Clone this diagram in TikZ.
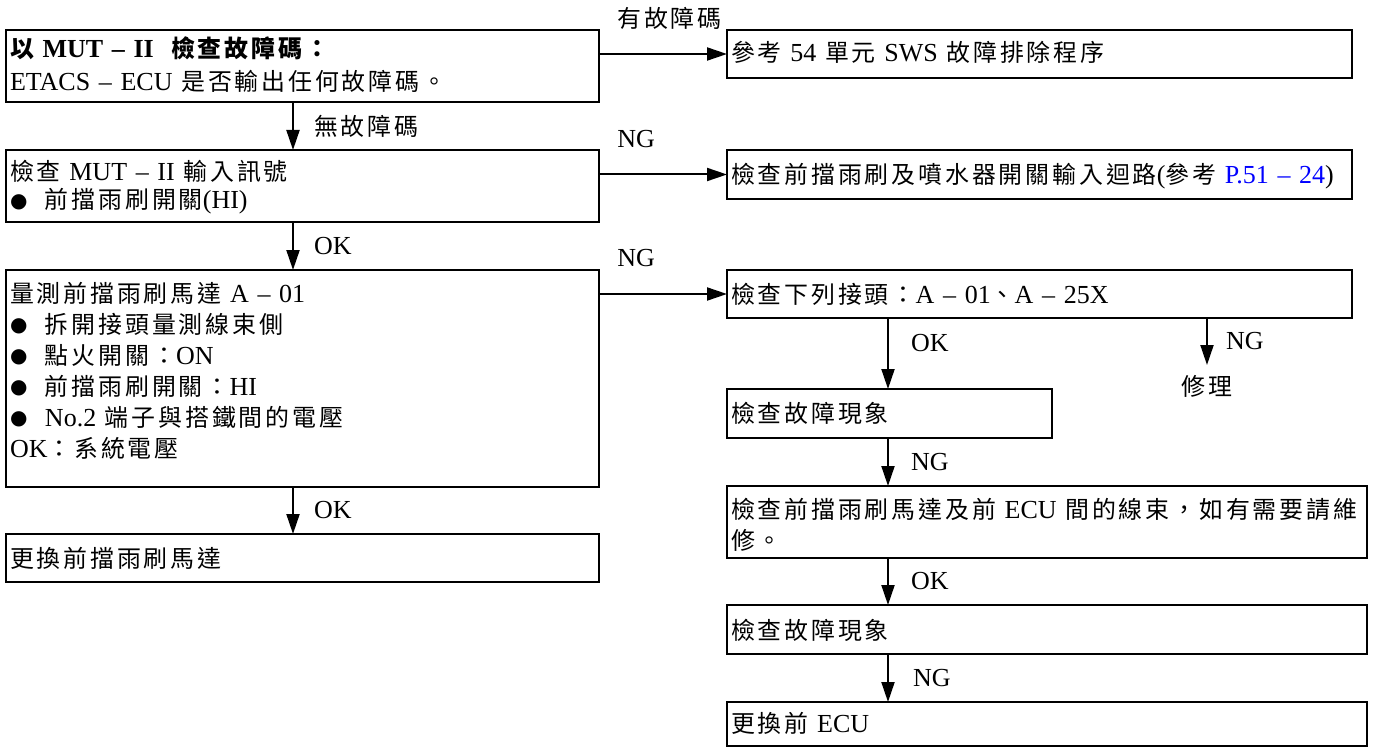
\documentclass[tikz,border=0pt]{standalone}
\usepackage{fontspec}
\setmainfont{Liberation Serif}
\newfontfamily\cjk{Noto Sans CJK TC}[Scale=0.92,LetterSpace=12]
\newfontfamily\symfont{DejaVu Sans}
\usetikzlibrary{arrows.meta}
\usetikzlibrary{positioning}
\newcommand{\zh}[1]{{\cjk #1}}
\newcommand{\dotmark}{\makebox[35pt][l]{\raisebox{1.5pt}{\symfont\fontsize{20}{20}\selectfont ●}}}
\newcommand{\boxfont}[1][28]{\fontsize{26}{#1}\selectfont\lineskiplimit=-100pt\lineskip=0pt}
\tikzstyle{check} = [rectangle, draw=black, line width=2pt, anchor=north west, align=left, inner xsep=4pt, inner ysep=0pt, outer sep=0pt, text height=32pt, text depth=16pt, font=\boxfont]
\tikzstyle{flow_step} = [line width=2pt, black, -{Triangle[length=20pt,width=13pt]}]
\tikzstyle{flow_label} = [inner sep=0pt, font=\boxfont]

\begin{document}
\begin{tikzpicture}[x=1pt, y=-1pt]

    \useasboundingbox (0,0) rectangle (1377,749);
    \coordinate (lane_l) at (293,0);
    \coordinate (lane_r) at (888,0);

    % left column
    \node (chk_code) [check, text width=585pt, text height=28pt, text depth=44pt, font={\boxfont[33]}] at (6,30)
        {\textbf{\zh{以} MUT -- II\ \ \zh{檢查故障碼：}}\\ETACS -- ECU \zh{是否輸出任何故障碼。}};
    \node (chk_input) [check, text width=585pt, text height=31pt, text depth=41pt, font={\boxfont[28]}] at (6,150)
        {\zh{檢查} MUT -- II \zh{輸入訊號}\\\dotmark\zh{前擋雨刷開關}(HI)};
    \node (meas_motor) [check, text width=585pt, text height=32pt, text depth=185pt, font={\boxfont[31]}] at (6,270)
        {\zh{量測前擋雨刷馬達} A -- 01\\
         \dotmark\zh{拆開接頭量測線束側}\\
         \dotmark\zh{點火開關：}ON\\
         \dotmark\zh{前擋雨刷開關：}HI\\
         \dotmark No.2 \zh{端子與搭鐵間的電壓}\\
         OK\zh{：系統電壓}};
    \node (rep_motor) [check, text width=585pt, text height=33pt, text depth=15pt] at (6,534)
        {\zh{更換前擋雨刷馬達}};

    % right column
    \node (ref_sws) [check, text width=617pt] at (727,30)
        {\zh{參考} 54 \zh{單元} SWS \zh{故障排除程序}};
    \node (chk_circuit) [check, text width=617pt, text height=33pt] at (727,150)
        {\zh{檢查前擋雨刷及噴水器開關輸入迴路}(\zh{參考} \textcolor{blue}{P.51 -- 24})};
    \node (chk_conn) [check, text width=617pt, text height=33pt, text depth=15pt] at (727,270)
        {\zh{檢查下列接頭：}A -- 01\zh{、}A -- 25X};
    \node (repair) [flow_label, anchor=north, inner ysep=10pt] at (1207,365) {\zh{修理}};
    \node (chk_sym_a) [check, text width=317pt, text height=33pt] at (727,389)
        {\zh{檢查故障現象}};
    \node (chk_harness) [check, text width=632pt, text height=32pt, text depth=40pt, font={\boxfont[31]}] at (727,486)
        {\zh{檢查前擋雨刷馬達及前} ECU \zh{間的線束，如有需要請維}\\\zh{修。}};
    \node (chk_sym_b) [check, text width=632pt, text height=34pt, text depth=15pt] at (727,605)
        {\zh{檢查故障現象}};
    \node (rep_ecu) [check, text width=632pt, text height=30pt, text depth=14pt] at (727,702)
        {\zh{更換前} ECU};

    % NG / fault branches
    \draw [flow_step] (chk_code.east |- ref_sws.west) -- node [flow_label, pos=0.55, above=23pt] {\zh{有故障碼}} (ref_sws.west);
    \draw [flow_step] (chk_input.east |- chk_circuit.west) -- node [flow_label, pos=0.29, above=26pt] {NG} (chk_circuit.west);
    \draw [flow_step] (meas_motor.east |- chk_conn.west) -- node [flow_label, pos=0.29, above=26pt] {NG} (chk_conn.west);

    % main line
    \draw [flow_step] (chk_code.south -| lane_l) -- node [flow_label, right=20pt] {\zh{無故障碼}} (chk_input.north -| lane_l);
    \draw [flow_step] (chk_input.south -| lane_l) -- node [flow_label, right=20pt] {OK} (meas_motor.north -| lane_l);
    \draw [flow_step] (meas_motor.south -| lane_l) -- node [flow_label, right=20pt] {OK} (rep_motor.north -| lane_l);

    \draw [flow_step] (chk_conn.south -| lane_r) -- node [flow_label, pos=0.35, right=22pt] {OK} (chk_sym_a.north -| lane_r);
    \draw [flow_step] (chk_conn.south -| repair) -- node [flow_label, right=18pt] {NG} (repair.north);
    \draw [flow_step] (chk_sym_a.south -| lane_r) -- node [flow_label, right=22pt] {NG} (chk_harness.north -| lane_r);
    \draw [flow_step] (chk_harness.south -| lane_r) -- node [flow_label, right=22pt] {OK} (chk_sym_b.north -| lane_r);
    \draw [flow_step] (chk_sym_b.south -| lane_r) -- node [flow_label, right=24pt] {NG} (rep_ecu.north -| lane_r);

\end{tikzpicture}
\end{document}
